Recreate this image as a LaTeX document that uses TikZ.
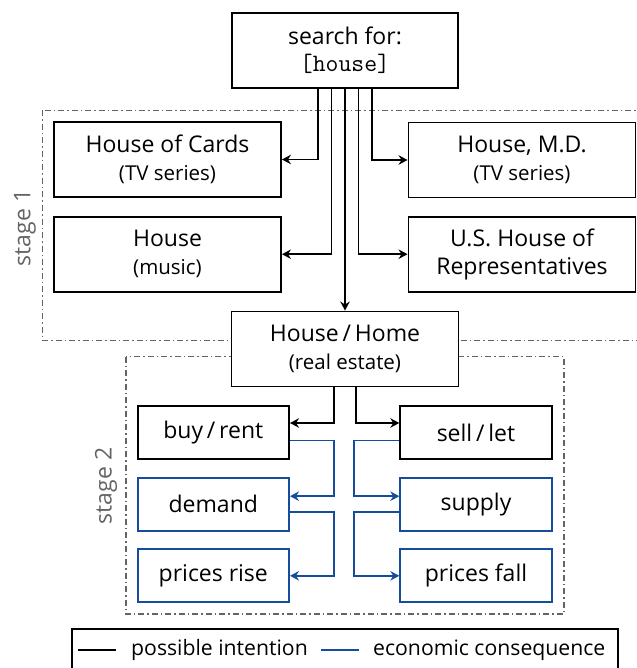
\documentclass[tikz,border=0pt]{standalone}
\usepackage{fontspec}
\setmainfont{Open Sans}
\usetikzlibrary{arrows.meta}
\definecolor{conseq}{RGB}{22,76,156}
\definecolor{stagegray}{RGB}{100,100,100}
\newcommand\mainsize{\fontsize{23}{27.6}\selectfont}
\newcommand\subsize{\fontsize{20.5}{24}\selectfont}

\begin{document}
\begin{tikzpicture}[x=1pt, y=-1pt, >={Stealth[length=9pt, width=9.5pt, inset=3pt]},
			box/.style={draw, fill=white, line width=1.9pt, minimum width=227pt, minimum height=75pt, align=center, font=\mainsize},
			smallbox/.style={box, minimum width=151.5pt, minimum height=53pt},
			conbox/.style={smallbox, draw=conseq},
			intent/.style={line width=1.9pt},
			consline/.style={line width=1.9pt, draw=conseq},
			stagebox/.style={draw=stagegray, line width=1.5pt, dash pattern=on 6pt off 3pt on 1.5pt off 3pt},
			stagelabel/.style={rotate=90, text=stagegray, font=\mainsize}]

		\useasboundingbox (0,0) rectangle (636,668);

		\draw[stagebox] (42.7,110.5) rectangle (647,340.5);
		\draw[stagebox] (125.8,356.5) rectangle (564,614);
		\node[stagelabel] (stageone) at (25,228) {stage 1};
		\node[stagelabel] (stagetwo) at (106,486) {stage 2};

		\node[box, minimum width=226pt] (search) at (345,50.3) {search for:\\{\fontsize{25}{27.6}\selectfont\texttt{[house]}}};
		\node[box] (cards) at (167.5,159.5) {House of Cards\\{\subsize (TV series)}};
		\node[box] (music) at (167.5,254.2) {House\\{\subsize (music)}};
		\node[box] (md) at (522,160) {House, M.D.\\{\subsize (TV series)}};
		\node[box] (congress) at (522,254.2) {U.S. House of\\Representatives};
		\node[box] (home) at (345,349) {House\,/\,Home\\{\subsize (real estate)}};

		\node[smallbox] (buy) at (213.3,432.5) {buy\,/\,rent};
		\node[smallbox] (sell) at (476,432.5) {sell\,/\,let};
		\node[conbox] (demand) at (213.3,504.2) {demand};
		\node[conbox] (supply) at (476,504.2) {supply};
		\node[conbox] (rise) at (213.3,575.8) {prices rise};
		\node[conbox] (fall) at (476,575.8) {prices fall};

		\draw[intent,->] ([xshift=-27pt]search.south) |- (cards);
		\draw[intent,->] ([xshift=-13.5pt]search.south) |- (music);
		\draw[intent,->] (search) -- (home);
		\draw[intent,->] ([xshift=13.5pt]search.south) |- (congress);
		\draw[intent,->] ([xshift=27pt]search.south) |- (md);

		\draw[intent,->] ([xshift=-10.8pt]home.south) |- ([yshift=9.5pt]buy.east);
		\draw[intent,->] ([xshift=10.8pt]home.south) |- ([yshift=9.5pt]sell.west);

		\draw[consline,->] ([yshift=-8pt]buy.east) -- ++(44,0) |- ([yshift=8pt]demand.east);
		\draw[consline,->] ([yshift=-8pt]demand.east) -- ++(44,0) |- (rise.east);
		\draw[consline,->] ([yshift=-8pt]sell.west) -- ++(-45,0) |- ([yshift=8pt]supply.west);
		\draw[consline,->] ([yshift=-8pt]supply.west) -- ++(-45,0) |- (fall.west);

		\node[draw, line width=1.4pt, minimum width=546pt, minimum height=42pt] (legend) at (345,650) {};
		\node[anchor=west, font=\fontsize{21.2}{24}\selectfont, inner sep=0pt] (lint) at (131,650) {possible intention};
		\node[anchor=west, font=\fontsize{21.2}{24}\selectfont, inner sep=0pt] (lcons) at (373,650) {economic consequence};
		\draw[intent] ([xshift=-15pt]lint.west) -- ++(-38,0);
		\draw[consline] ([xshift=-14pt]lcons.west) -- ++(-38,0);
	\end{tikzpicture}
\end{document}
